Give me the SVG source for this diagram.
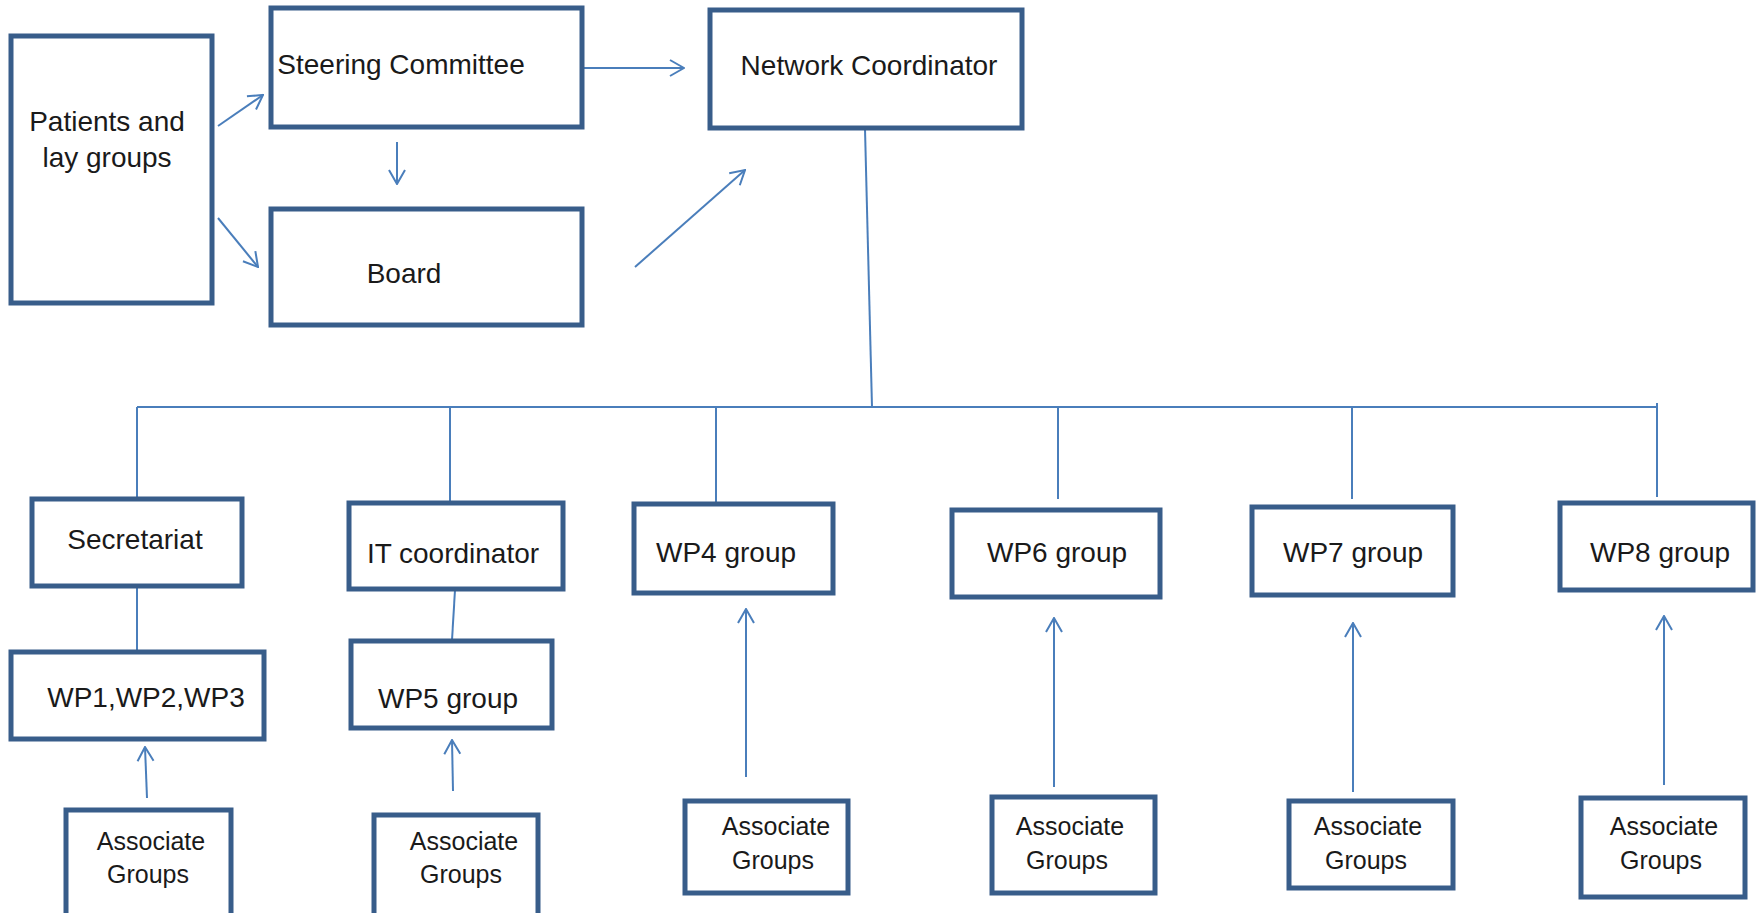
<svg xmlns="http://www.w3.org/2000/svg" width="1762" height="913" viewBox="0 0 1762 913">
<style>
  .box { fill: #ffffff; stroke: #385d8a; stroke-width: 5; }
  .t { font-family: "Liberation Sans", Arial, sans-serif; font-size: 28px; fill: #1a1a1a; text-anchor: middle; }
  .a { font-family: "Liberation Sans", Arial, sans-serif; font-size: 25px; fill: #1a1a1a; text-anchor: middle; }
  .c { fill: none; stroke: #4a7ebb; stroke-width: 2; }
  .ar { marker-end: url(#head); }
</style>
<defs>
  <marker id="head" viewBox="0 0 16 20" refX="15" refY="10" markerWidth="16" markerHeight="20" markerUnits="userSpaceOnUse" orient="auto">
    <path d="M1,2 L15,10 L1,18" fill="none" stroke="#4a7ebb" stroke-width="2"/>
  </marker>
</defs>
<rect width="1762" height="913" fill="#ffffff"/>

<g id="connectors">
  <line class="c ar" x1="218" y1="126" x2="263" y2="95"/>
  <line class="c ar" x1="218" y1="218" x2="258" y2="267"/>
  <line class="c ar" x1="397" y1="142" x2="397" y2="184"/>
  <line class="c ar" x1="582" y1="68" x2="684" y2="68"/>
  <line class="c ar" x1="635" y1="267" x2="745" y2="170"/>
  <line class="c" x1="865" y1="129" x2="872" y2="407"/>
  <line class="c" x1="137" y1="407" x2="1657" y2="407"/>
  <line class="c" x1="137" y1="407" x2="137" y2="498"/>
  <line class="c" x1="450" y1="407" x2="450" y2="502"/>
  <line class="c" x1="716" y1="407" x2="716" y2="502"/>
  <line class="c" x1="1058" y1="407" x2="1058" y2="499"/>
  <line class="c" x1="1352" y1="407" x2="1352" y2="499"/>
  <line class="c" x1="1657" y1="403" x2="1657" y2="497"/>
  <line class="c" x1="137" y1="586" x2="137" y2="652"/>
  <line class="c" x1="455" y1="590" x2="452" y2="640"/>
  <line class="c ar" x1="147" y1="798" x2="145" y2="747"/>
  <line class="c ar" x1="453" y1="791" x2="452" y2="740"/>
  <line class="c ar" x1="746" y1="777" x2="746" y2="609"/>
  <line class="c ar" x1="1054" y1="787" x2="1054" y2="618"/>
  <line class="c ar" x1="1353" y1="792" x2="1353" y2="623"/>
  <line class="c ar" x1="1664" y1="785" x2="1664" y2="616"/>
</g>

<g id="patients">
  <rect class="box" x="11" y="36" width="201" height="267"/>
  <text class="t" x="107" y="131">Patients and</text>
  <text class="t" x="107" y="167">lay groups</text>
</g>
<g id="steering">
  <rect class="box" x="271" y="8" width="311" height="119"/>
  <text class="t" x="401" y="74">Steering Committee</text>
</g>
<g id="board">
  <rect class="box" x="271" y="209" width="311" height="116"/>
  <text class="t" x="404" y="283">Board</text>
</g>
<g id="network">
  <rect class="box" x="710" y="10" width="312" height="118"/>
  <text class="t" x="869" y="75">Network Coordinator</text>
</g>

<g id="secretariat">
  <rect class="box" x="32" y="499" width="210" height="87"/>
  <text class="t" x="135" y="549">Secretariat</text>
</g>
<g id="it">
  <rect class="box" x="349" y="503" width="214" height="86"/>
  <text class="t" x="453" y="563">IT coordinator</text>
</g>
<g id="wp4">
  <rect class="box" x="634" y="504" width="199" height="89"/>
  <text class="t" x="726" y="562">WP4 group</text>
</g>
<g id="wp6">
  <rect class="box" x="952" y="510" width="208" height="87"/>
  <text class="t" x="1057" y="562">WP6 group</text>
</g>
<g id="wp7">
  <rect class="box" x="1252" y="507" width="201" height="88"/>
  <text class="t" x="1353" y="562">WP7 group</text>
</g>
<g id="wp8">
  <rect class="box" x="1560" y="503" width="193" height="87"/>
  <text class="t" x="1660" y="562">WP8 group</text>
</g>

<g id="wp123">
  <rect class="box" x="11" y="652" width="253" height="87"/>
  <text class="t" x="146" y="707">WP1,WP2,WP3</text>
</g>
<g id="wp5">
  <rect class="box" x="351" y="641" width="201" height="87"/>
  <text class="t" x="448" y="708">WP5 group</text>
</g>

<g id="assoc1">
  <rect class="box" x="66" y="810" width="165" height="110"/>
  <text class="a" x="151" y="850">Associate</text>
  <text class="a" x="148" y="883">Groups</text>
</g>
<g id="assoc2">
  <rect class="box" x="374" y="815" width="164" height="105"/>
  <text class="a" x="464" y="850">Associate</text>
  <text class="a" x="461" y="883">Groups</text>
</g>
<g id="assoc4">
  <rect class="box" x="685" y="801" width="163" height="92"/>
  <text class="a" x="776" y="835">Associate</text>
  <text class="a" x="773" y="869">Groups</text>
</g>
<g id="assoc6">
  <rect class="box" x="992" y="797" width="163" height="96"/>
  <text class="a" x="1070" y="835">Associate</text>
  <text class="a" x="1067" y="869">Groups</text>
</g>
<g id="assoc7">
  <rect class="box" x="1289" y="801" width="164" height="87"/>
  <text class="a" x="1368" y="835">Associate</text>
  <text class="a" x="1366" y="869">Groups</text>
</g>
<g id="assoc8">
  <rect class="box" x="1581" y="798" width="164" height="99"/>
  <text class="a" x="1664" y="835">Associate</text>
  <text class="a" x="1661" y="869">Groups</text>
</g>
</svg>
